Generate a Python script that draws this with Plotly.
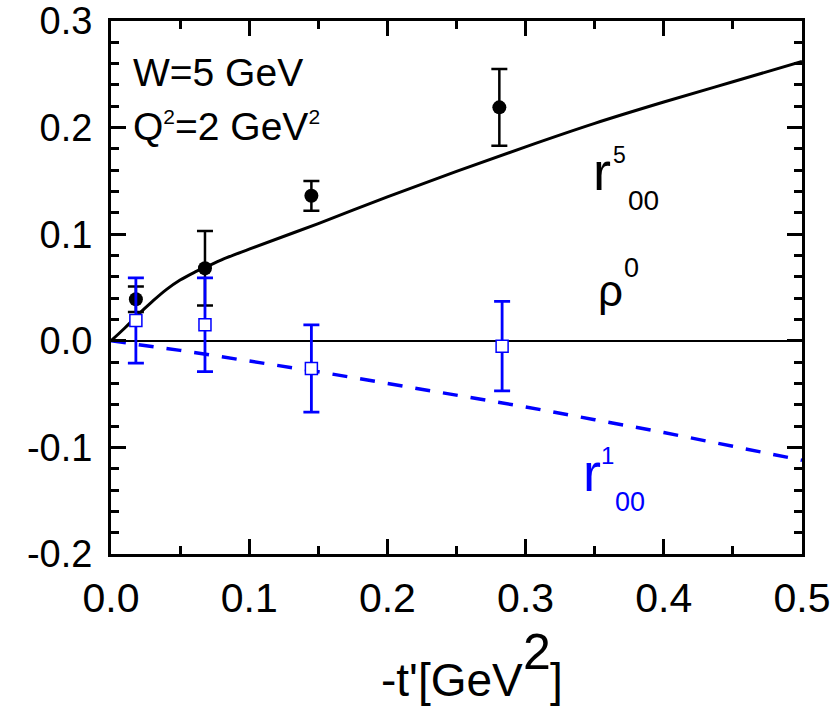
import plotly.graph_objects as go

# Data
t_r5 = [0.018, 0.068, 0.145, 0.281]
r5 = [0.039, 0.068, 0.136, 0.219]
r5_err = [0.012, 0.035, 0.014, 0.036]

t_r1 = [0.018, 0.068, 0.145, 0.283]
r1 = [0.019, 0.015, -0.026, -0.005]
r1_err = [0.040, 0.044, 0.041, 0.042]

curve_x = [0.0, 0.01, 0.02, 0.03, 0.04, 0.05, 0.06, 0.07, 0.08, 0.1, 0.15, 0.2, 0.25, 0.3, 0.35, 0.4, 0.45, 0.5]
curve_r5 = [0.0, 0.012, 0.025, 0.037, 0.048, 0.057, 0.064, 0.070, 0.076, 0.086, 0.110, 0.135, 0.159, 0.182, 0.204, 0.224, 0.243, 0.262]

dash_x = [0.0, 0.05, 0.1, 0.15, 0.2, 0.25, 0.3, 0.35, 0.4, 0.45, 0.5]
dash_r1 = [0.0, -0.009, -0.019, -0.029, -0.040, -0.051, -0.062, -0.074, -0.086, -0.099, -0.112]

xticks = [0.0, 0.1, 0.2, 0.3, 0.4, 0.5]
xticklabels = ["0.0", "0.1", "0.2", "0.3", "0.4", "0.5"]
yticks = [-0.2, -0.1, 0.0, 0.1, 0.2, 0.3]
yticklabels = ["-0.2", "-0.1", "0.0", "0.1", "0.2", "0.3"]

FONT = "Liberation Sans, Arial, sans-serif"
BLUE = "#0000FF"

# plot frame in pixels (for placing text pieces)
L, T, R, B = 111, 21, 802, 554


def px(xp):
    return (xp - L) / (R - L)


def py(yp):
    return (B - yp) / (B - T)


fig = go.Figure()

fig.add_trace(go.Scatter(x=curve_x, y=curve_r5, mode="lines",
                         line=dict(color="black", width=3, shape="spline")))
fig.add_trace(go.Scatter(x=dash_x, y=dash_r1, mode="lines",
                         line=dict(color=BLUE, width=3.5, dash="15px,13px")))
fig.add_trace(go.Scatter(x=t_r5, y=r5, mode="markers",
                         marker=dict(color="black", size=14, symbol="circle"),
                         error_y=dict(type="data", array=r5_err, color="black",
                                      thickness=2.5, width=8)))
fig.add_trace(go.Scatter(x=t_r1, y=r1, mode="markers",
                         marker=dict(color="white", size=12, symbol="square",
                                     line=dict(color=BLUE, width=1.5)),
                         error_y=dict(type="data", array=r1_err, color=BLUE,
                                      thickness=2.8, width=8)))

axis_common = dict(showgrid=False, showline=True, linecolor="black", linewidth=3,
                   mirror="allticks", ticks="inside", ticklen=15, tickwidth=3,
                   tickcolor="black", automargin=False, ticklabeloverflow="allow")

fig.update_xaxes(range=[0, 0.5], tickvals=xticks, ticktext=xticklabels,
                 minor=dict(ticks="inside", dtick=0.05, ticklen=8, tickwidth=3, tickcolor="black"),
                 zeroline=False, ticklabelstandoff=6,
                 tickfont=dict(family=FONT, size=41, color="black"),
                 **axis_common)
fig.update_yaxes(range=[-0.2, 0.3], tickvals=yticks, ticktext=yticklabels,
                 minor=dict(ticks="inside", dtick=0.02, ticklen=8, tickwidth=3, tickcolor="black"),
                 zeroline=True, zerolinecolor="black", zerolinewidth=1.5,
                 ticklabelstandoff=8,
                 tickfont=dict(family=FONT, size=38, color="black"),
                 **axis_common)


def txt(x, y, s, size, color="black", xanchor="left"):
    fig.add_annotation(xref="paper", yref="paper", x=px(x), y=py(y),
                       xanchor=xanchor, yanchor="middle", text=s, showarrow=False,
                       font=dict(family=FONT, size=size, color=color))


# Kinematics
txt(131, 72, "W=5 GeV", 39)
txt(131, 126, "Q<sup><span style='font-size:21px'>2</span></sup>=2 GeV"
              "<sup><span style='font-size:21px'>2</span></sup>", 39)

# r^5_00
txt(590.5, 171, "r", 54)
txt(611, 155, "5", 23)
txt(626, 200, "00", 28)
# rho^0
txt(595.5, 290, "ρ", 44)
txt(622, 267.5, "0", 27)
# r^1_00 (blue)
txt(580.5, 472, "r", 54, BLUE)
txt(599, 455.5, "1", 24, BLUE)
txt(613, 501.5, "00", 27, BLUE)

# x-axis title
txt(524.5, 680, "-t'[GeV", 46, xanchor="right")
txt(520.5, 651.5, "2", 50)
txt(547.5, 680, "]", 46)

fig.update_layout(width=837, height=706, showlegend=False,
                  plot_bgcolor="white", paper_bgcolor="white",
                  margin=dict(l=L, r=837 - R, t=T, b=706 - B),
                  font=dict(family=FONT))

fig.write_html("out.html")
